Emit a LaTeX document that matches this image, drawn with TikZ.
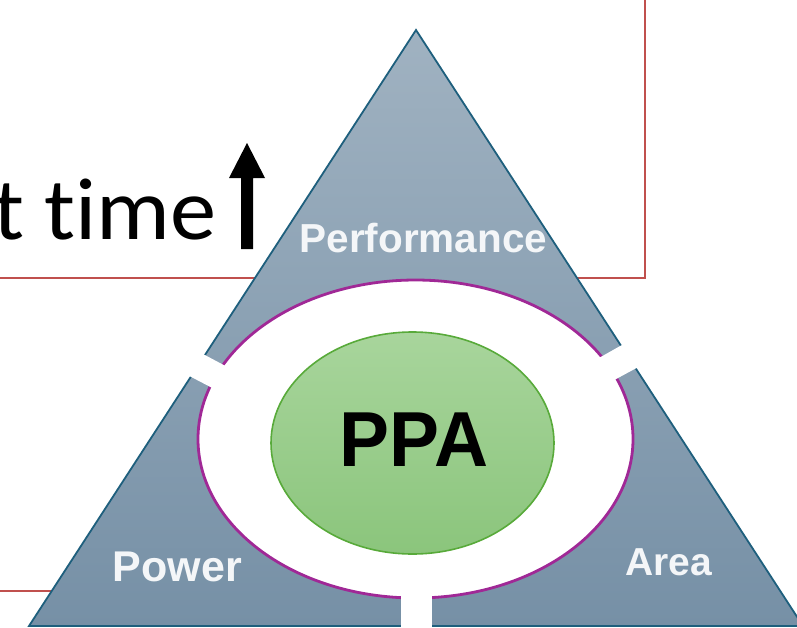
\documentclass[tikz,border=0pt]{standalone}
\usepackage{fontspec}
\setmainfont{Liberation Sans}
\newfontfamily\calib{Carlito}[Ligatures=NoCommon]
\definecolor{frameRed}{RGB}{192,80,77}
\definecolor{triTop}{RGB}{160,178,193}
\definecolor{triBot}{RGB}{118,144,166}
\definecolor{triEdge}{RGB}{30,95,125}
\definecolor{ringPurple}{RGB}{160,40,150}
\definecolor{greenTop}{RGB}{168,213,156}
\definecolor{greenBot}{RGB}{139,197,124}
\definecolor{greenEdge}{RGB}{88,170,58}
\definecolor{labelWhite}{RGB}{244,246,248}
\tikzset{
  frameline/.style={draw=frameRed, line width=2pt},
  cornerlabel/.style={text=labelWhite, inner sep=0pt, anchor=base, font=\bfseries},
  gapband/.style={fill=white, draw=none},
}
\begin{document}
\begin{tikzpicture}[x=1pt,y=-1pt]
\useasboundingbox (0,0) rectangle (797,627);
\begin{scope}
\clip (0,0) rectangle (797,627);
% slide frames behind the pyramid
\coordinate (f1a) at (-5,278);
\coordinate (f1b) at (645,278);
\coordinate (f1c) at (645,-5);
\draw[frameline] (f1a) -- (f1b) -- (f1c);
\coordinate (f2a) at (-5,591);
\coordinate (f2b) at (70,591);
\draw[frameline] (f2a) -- (f2b);
% heading fragment with upward arrow
\node[font=\calib\fontsize{88}{88}\selectfont, inner sep=0pt, anchor=base east, xscale=1.05] (ttime) at (217,239) {t time};
\fill[black] (241,249) -- (241,178) -- (229,178) -- (247,143) -- (265,178) -- (253,178) -- (253,249) -- cycle;
% pyramid
\coordinate (apex) at (416,30);
\coordinate (bl) at (29,626);
\coordinate (br) at (803,626);
\shade[top color=triTop, bottom color=triBot] (apex) -- (bl) -- (br) -- cycle;
\draw[triEdge, line width=1.8pt, line join=miter] (apex) -- (bl) -- (br) -- cycle;
% ring around the centre
\draw[ringPurple, line width=2.8pt, fill=white] (415.5,439) ellipse [x radius=217.5, y radius=159];
% three separating gaps
\fill[gapband] (186,345) -- (235,371) -- (222,393) -- (172,367) -- cycle;
\fill[gapband] (645,332) -- (590,363) -- (605,385) -- (655,358) -- cycle;
\fill[gapband] (400.5,572) rectangle (431.5,632);
% centre ellipse
\shade[top color=greenTop, bottom color=greenBot] (412.5,443) ellipse [x radius=141.5, y radius=111];
\draw[greenEdge, line width=1.6pt] (412.5,443) ellipse [x radius=141.5, y radius=111];
\node[font=\bfseries\fontsize{78}{78}\selectfont, inner sep=0pt, xscale=0.96] (ppa) at (414,440) {PPA};
% corner labels
\node[cornerlabel, font=\bfseries\fontsize{40.5}{40.5}\selectfont] (perf) at (423.5,252) {Performance};
\node[cornerlabel, font=\bfseries\fontsize{43}{43}\selectfont] (power) at (177.5,581) {Power};
\node[cornerlabel, font=\bfseries\fontsize{39}{39}\selectfont] (area) at (669,575) {Area};
\end{scope}
\end{tikzpicture}
\end{document}
